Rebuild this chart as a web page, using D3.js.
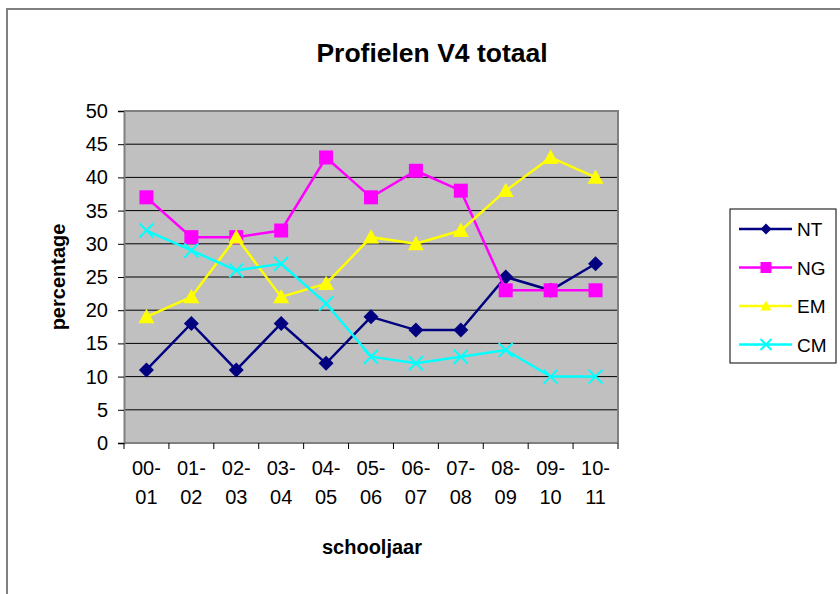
<!DOCTYPE html>
<html>
<head>
<meta charset="utf-8">
<script src="https://cdn.jsdelivr.net/npm/d3@7"></script>
<style>
  body { margin: 0; background: #fff; }
  text { font-family: "Liberation Sans", Arial, sans-serif; }
</style>
</head>
<body>
<svg id="chart"></svg>
<script>
const years = ["00-01", "01-02", "02-03", "03-04", "04-05", "05-06", "06-07", "07-08", "08-09", "09-10", "10-11"],
NT = [11, 18, 11, 18, 12, 19, 17, 17, 25, 23, 27],
NG = [37, 31, 31, 32, 43, 37, 41, 38, 23, 23, 23],
EM = [19, 22, 31, 22, 24, 31, 30, 32, 38, 43, 40],
CM = [32, 29, 26, 27, 21, 13, 12, 13, 14, 10, 10],
yTicks = [0, 5, 10, 15, 20, 25, 30, 35, 40, 45, 50];

const w = 840, h = 594;
const plot = { left: 124, right: 618, top: 111, bottom: 443 };

const series = [
  { name: "NT", values: NT, color: "#000080", symbol: "diamond", r: 7.5 },
  { name: "NG", values: NG, color: "#ff00ff", symbol: "square", r: 7 },
  { name: "EM", values: EM, color: "#ffff00", symbol: "triangle", r: 8 },
  { name: "CM", values: CM, color: "#00ffff", symbol: "cross", r: 7 }
];

const svg = d3.select("#chart").attr("width", w).attr("height", h);

// outer chart frame
svg.append("rect")
  .attr("x", 7).attr("y", 9).attr("width", 900).attr("height", 700)
  .style("fill", "#fff").style("stroke", "#808080").style("stroke-width", 2);

const x = d3.scaleBand().domain(years).range([plot.left, plot.right]);
const y = d3.scaleLinear().domain([0, 50]).range([plot.bottom, plot.top]);

// plot background
svg.append("rect")
  .attr("x", plot.left).attr("y", plot.top)
  .attr("width", plot.right - plot.left).attr("height", plot.bottom - plot.top)
  .style("fill", "#c0c0c0");

// gridlines
svg.append("g")
  .selectAll("line")
  .data(yTicks.slice(1))
  .enter()
  .append("line")
    .attr("x1", plot.left).attr("x2", plot.right)
    .attr("y1", d => y(d)).attr("y2", d => y(d))
    .style("stroke", "#000").style("stroke-width", 1);

// plot border (top/right gray)
svg.append("path")
  .attr("d", `M${plot.left},${plot.top}H${plot.right}V${plot.bottom}`)
  .style("fill", "none").style("stroke", "#808080").style("stroke-width", 2);

// y axis
const yAxis = svg.append("g")
  .attr("transform", `translate(${plot.left},0)`)
  .call(d3.axisLeft(y).tickValues(yTicks).tickSize(6).tickPadding(10));
yAxis.select(".domain").style("stroke", "#808080").style("stroke-width", 2);
yAxis.selectAll("text")
  .style("font-size", "20px").style("fill", "#000")
  .style("font-family", "'Liberation Sans', Arial, sans-serif");

// x axis with boundary ticks
const xAxis = svg.append("g")
  .attr("transform", `translate(0,${plot.bottom})`);
xAxis.append("line")
  .attr("x1", plot.left).attr("x2", plot.right)
  .style("stroke", "#808080").style("stroke-width", 2);
const bounds = years.map(d => x(d)).concat([plot.right]);
xAxis.selectAll("line.tick")
  .data(bounds)
  .enter()
  .append("line")
    .attr("class", "tick")
    .attr("x1", d => d).attr("x2", d => d)
    .attr("y1", 0).attr("y2", 6)
    .style("stroke", "#000");
const lbl = xAxis.selectAll("text.lbl")
  .data(years)
  .enter()
  .append("text")
    .attr("class", "lbl")
    .attr("text-anchor", "middle")
    .style("font-size", "20px");
lbl.append("tspan")
  .attr("x", d => x(d) + x.bandwidth() / 2).attr("y", 32)
  .text(d => d.split("-")[0] + "-");
lbl.append("tspan")
  .attr("x", d => x(d) + x.bandwidth() / 2).attr("y", 61)
  .text(d => d.split("-")[1]);

// line generator
const cx = i => x(years[i]) + x.bandwidth() / 2;
const line = d3.line().x((d, i) => cx(i)).y(d => y(d));

function marker(sel, s, r) {
  let d;
  if (s.symbol === "diamond") d = `M0,${-r}L${r},0L0,${r}L${-r},0Z`;
  else if (s.symbol === "square") d = `M${-r},${-r}H${r}V${r}H${-r}Z`;
  else if (s.symbol === "triangle") d = `M0,${-r}L${r},${r * 0.8}H${-r}Z`;
  else d = `M${-r},${-r}L${r},${r}M${-r},${r}L${r},${-r}`;
  const p = sel.append("path").attr("d", d);
  if (s.symbol === "cross") p.style("stroke", s.color).style("stroke-width", 2).style("fill", "none");
  else p.style("fill", s.color);
}

series.forEach(s => {
  svg.append("path")
    .datum(s.values)
    .attr("d", line)
    .style("fill", "none").style("stroke", s.color).style("stroke-width", 2.5);
  svg.append("g")
    .selectAll("g")
    .data(s.values)
    .enter()
    .append("g")
      .attr("transform", (d, i) => `translate(${cx(i)},${y(d)})`)
      .each(function () { marker(d3.select(this), s, s.r); });
});

// title and axis labels
svg.append("text")
  .attr("x", 432).attr("y", 62)
  .attr("text-anchor", "middle")
  .style("font-size", "26.5px").style("font-weight", "bold")
  .text("Profielen V4 totaal");

svg.append("text")
  .attr("x", 372).attr("y", 554)
  .attr("text-anchor", "middle")
  .style("font-size", "20px").style("font-weight", "bold")
  .text("schooljaar");

svg.append("text")
  .attr("transform", "translate(65,277) rotate(-90)")
  .attr("text-anchor", "middle")
  .style("font-size", "20px").style("font-weight", "bold")
  .text("percentage");

// legend
const lg = svg.append("g").attr("transform", "translate(730,209)");
lg.append("rect")
  .attr("width", 106).attr("height", 154)
  .style("fill", "#fff").style("stroke", "#000").style("stroke-width", 1);
series.forEach((s, i) => {
  const row = lg.append("g").attr("transform", `translate(0,${20 + i * 38.5})`);
  row.append("line")
    .attr("x1", 9).attr("x2", 62)
    .style("stroke", s.color).style("stroke-width", 2.5);
  const m = row.append("g").attr("transform", "translate(36,0)");
  marker(m, s, 5.5);
  row.append("text")
    .attr("x", 67).attr("y", 7)
    .style("font-size", "19px")
    .text(s.name);
});
</script>
</body>
</html>
